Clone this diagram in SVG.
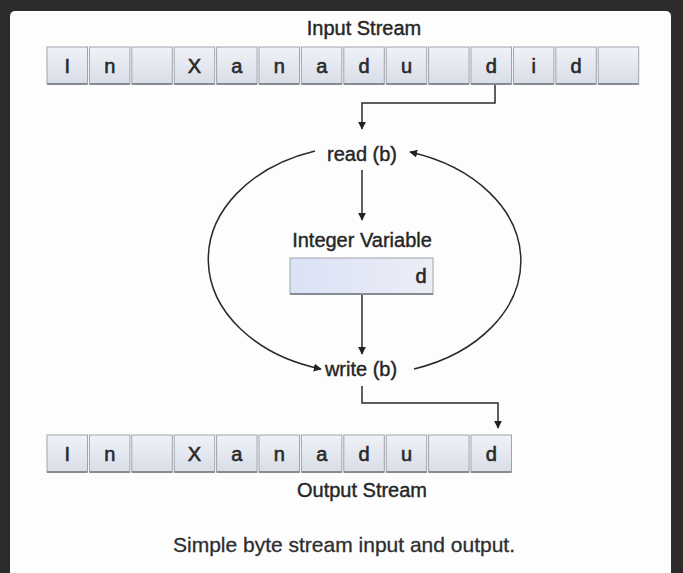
<svg xmlns="http://www.w3.org/2000/svg" width="683" height="573" viewBox="0 0 683 573">
<defs>
<linearGradient id="cellg" x1="0" y1="0" x2="0" y2="1">
<stop offset="0" stop-color="#eff2f8"/>
<stop offset="1" stop-color="#d9dde7"/>
</linearGradient>
<linearGradient id="boxg" x1="0" y1="0" x2="1" y2="0">
<stop offset="0" stop-color="#dbe2f6"/>
<stop offset="1" stop-color="#eceef6"/>
</linearGradient>
<marker id="ah" viewBox="0 0 10 10" refX="9" refY="5" markerWidth="8" markerHeight="8" markerUnits="userSpaceOnUse" orient="auto">
<path d="M0,0 L10,5 L0,10 Z" fill="#222"/>
</marker>
</defs>
<style>
.cell{fill:url(#cellg);stroke:#9ea3ad;stroke-width:1}
.sh{stroke:#868b94;stroke-width:2}
.ch{font-family:"Liberation Sans",Arial,sans-serif;font-size:20px;fill:#2a2a2a;stroke:#2a2a2a;stroke-width:0.6;text-anchor:middle}
.lb{font-family:"Liberation Sans",Arial,sans-serif;font-size:20px;fill:#262626;stroke:#262626;stroke-width:0.4;text-anchor:middle}
.cn{fill:none;stroke:#2a2a2a;stroke-width:1.5}
</style>
<rect x="0" y="0" width="683" height="573" fill="#2c2c2c"/>
<rect x="10" y="11" width="661" height="570" rx="5" fill="#fdfdfd"/>

<g id="input-stream">
<text class="lb" x="364" y="35">Input Stream</text>
<g id="in-cells">
<rect class="cell" x="47" y="47" width="40.5" height="37"/>
<rect class="cell" x="89.4" y="47" width="40.5" height="37"/>
<rect class="cell" x="131.8" y="47" width="40.5" height="37"/>
<rect class="cell" x="174.2" y="47" width="40.5" height="37"/>
<rect class="cell" x="216.6" y="47" width="40.5" height="37"/>
<rect class="cell" x="259" y="47" width="40.5" height="37"/>
<rect class="cell" x="301.4" y="47" width="40.5" height="37"/>
<rect class="cell" x="343.8" y="47" width="40.5" height="37"/>
<rect class="cell" x="386.2" y="47" width="40.5" height="37"/>
<rect class="cell" x="428.6" y="47" width="40.5" height="37"/>
<rect class="cell" x="471" y="47" width="40.5" height="37"/>
<rect class="cell" x="513.4" y="47" width="40.5" height="37"/>
<rect class="cell" x="555.8" y="47" width="40.5" height="37"/>
<rect class="cell" x="598.2" y="47" width="40.5" height="37"/>
<path class="sh" d="M47,84H87.5M89.4,84H129.9M131.8,84H172.3M174.2,84H214.7M216.6,84H257.1M259,84H299.5M301.4,84H341.9M343.8,84H384.3M386.2,84H426.7M428.6,84H469.1M471,84H511.5M513.4,84H553.9M555.8,84H596.3M598.2,84H638.7"/>
<text class="ch" x="67.3" y="73">I</text>
<text class="ch" x="109.7" y="73">n</text>
<text class="ch" x="194.5" y="73">X</text>
<text class="ch" x="236.9" y="73">a</text>
<text class="ch" x="279.3" y="73">n</text>
<text class="ch" x="321.7" y="73">a</text>
<text class="ch" x="364.1" y="73">d</text>
<text class="ch" x="406.5" y="73">u</text>
<text class="ch" x="491.3" y="73">d</text>
<text class="ch" x="533.7" y="73">i</text>
<text class="ch" x="576.1" y="73">d</text>
</g>
</g>

<g id="read">
<text class="lb" x="362" y="161">read (b)</text>
</g>

<g id="integer-variable">
<text class="lb" x="362" y="247">Integer Variable</text>
<rect x="290" y="258" width="143" height="36" fill="url(#boxg)" stroke="#a0a4ae" stroke-width="1"/>
<path class="sh" d="M290,294H433"/>
<text class="ch" x="421" y="283">d</text>
</g>

<g id="write">
<text class="lb" x="361" y="376">write (b)</text>
</g>

<g id="output-stream">
<g id="out-cells">
<rect class="cell" x="47" y="435" width="40.5" height="37"/>
<rect class="cell" x="89.4" y="435" width="40.5" height="37"/>
<rect class="cell" x="131.8" y="435" width="40.5" height="37"/>
<rect class="cell" x="174.2" y="435" width="40.5" height="37"/>
<rect class="cell" x="216.6" y="435" width="40.5" height="37"/>
<rect class="cell" x="259" y="435" width="40.5" height="37"/>
<rect class="cell" x="301.4" y="435" width="40.5" height="37"/>
<rect class="cell" x="343.8" y="435" width="40.5" height="37"/>
<rect class="cell" x="386.2" y="435" width="40.5" height="37"/>
<rect class="cell" x="428.6" y="435" width="40.5" height="37"/>
<rect class="cell" x="471" y="435" width="40.5" height="37"/>
<path class="sh" d="M47,472H87.5M89.4,472H129.9M131.8,472H172.3M174.2,472H214.7M216.6,472H257.1M259,472H299.5M301.4,472H341.9M343.8,472H384.3M386.2,472H426.7M428.6,472H469.1M471,472H511.5"/>
<text class="ch" x="67.3" y="461">I</text>
<text class="ch" x="109.7" y="461">n</text>
<text class="ch" x="194.5" y="461">X</text>
<text class="ch" x="236.9" y="461">a</text>
<text class="ch" x="279.3" y="461">n</text>
<text class="ch" x="321.7" y="461">a</text>
<text class="ch" x="364.1" y="461">d</text>
<text class="ch" x="406.5" y="461">u</text>
<text class="ch" x="491.3" y="461">d</text>
</g>
<text class="lb" x="362" y="497">Output Stream</text>
</g>

<g id="connectors">
<path class="cn" d="M495,85V103H362V129" marker-end="url(#ah)"/>
<path class="cn" d="M362,170V220" marker-end="url(#ah)"/>
<path class="cn" d="M362,295V354" marker-end="url(#ah)"/>
<path class="cn" d="M362,386V403H498V428" marker-end="url(#ah)"/>
<path class="cn" d="M315,151 A155 114 0 0 0 321,369" marker-end="url(#ah)"/>
<path class="cn" d="M414,369 A157 114 0 0 0 410,152" marker-end="url(#ah)"/>
</g>

<text x="344" y="552" font-family="Liberation Sans, Arial, sans-serif" font-size="21" fill="#2e2e2e" stroke="#2e2e2e" stroke-width="0.3" text-anchor="middle">Simple byte stream input and output.</text>
</svg>
